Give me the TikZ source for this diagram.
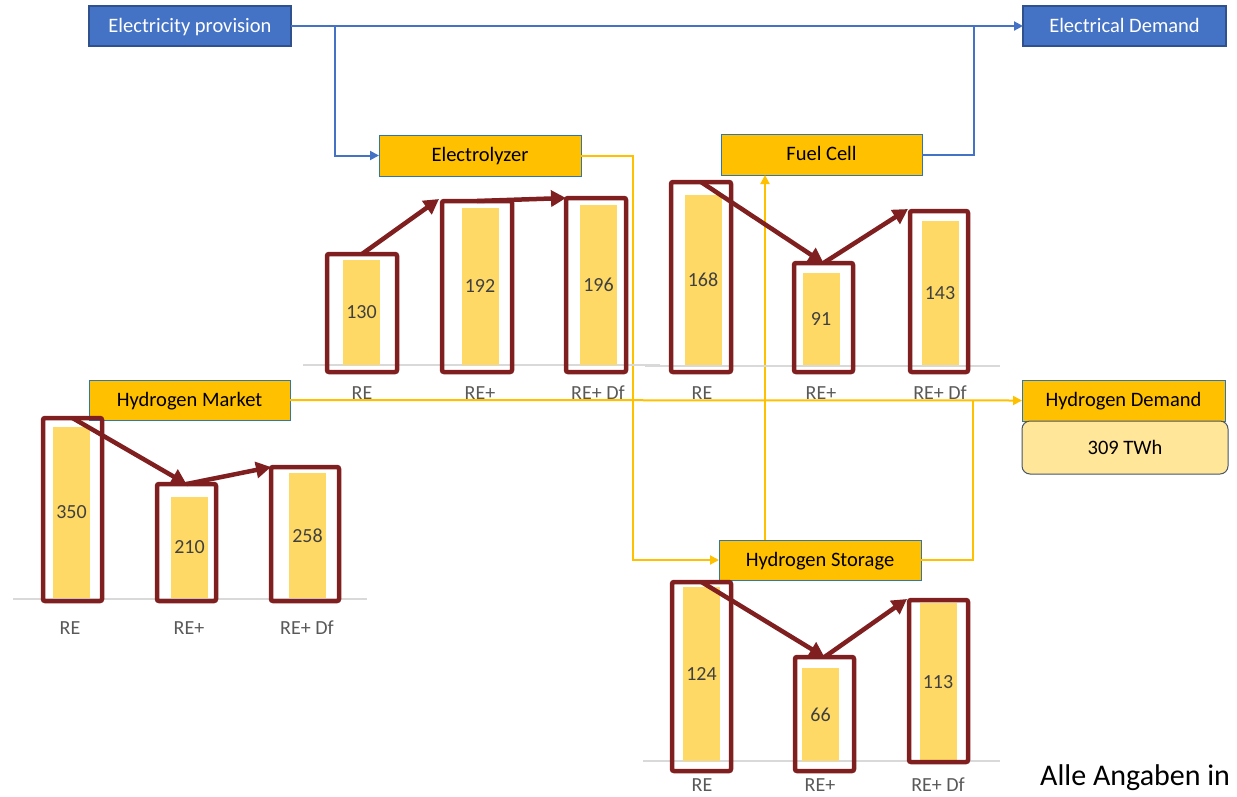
\documentclass[tikz,border=0pt]{standalone}
\usepackage{fontspec}
\setmainfont{Carlito}
\usetikzlibrary{arrows.meta}

\definecolor{elblue}{HTML}{4472C4}
\definecolor{elblueline}{HTML}{2F528F}
\definecolor{hyyellow}{HTML}{FFC000}
\definecolor{boxedge}{HTML}{2E75B6}
\definecolor{barfill}{HTML}{FFD966}
\definecolor{framered}{HTML}{7F1F1F}
\definecolor{axisgray}{HTML}{D9D9D9}
\definecolor{labgray}{HTML}{595959}
\definecolor{numgray}{HTML}{404040}
\definecolor{demandfill}{HTML}{FFE699}
\definecolor{demandedge}{HTML}{44546A}

\tikzset{
  boxfont/.style={font=\fontsize{20.5}{24}\selectfont},
  chartfont/.style={font=\fontsize{20}{24}\selectfont},
  elbox/.style={boxfont, draw=elblueline, line width=1.2, fill=elblue, text=white,
    minimum width=202, minimum height=40, inner sep=0, outer sep=0, text depth=2pt},
  h2box/.style={boxfont, draw=boxedge, line width=1, fill=hyyellow, text=black,
    minimum width=202, minimum height=40, inner sep=0, outer sep=0, text depth=2pt},
  valuebox/.style={boxfont, draw=demandedge, line width=1, fill=demandfill, text=black,
    rounded corners=8, minimum width=206, minimum height=53, inner sep=0, outer sep=0},
  bar/.style={chartfont, fill=barfill, text=numgray, inner sep=0, outer sep=0, minimum width=37},
  frame/.style={draw=framered, line width=4.5, rounded corners=2, inner sep=0, outer sep=0},
  trend/.style={draw=framered, line width=4.5, -{Triangle[length=15pt,width=16pt]}},
  axisline/.style={draw=axisgray, line width=1.2},
  cat/.style={chartfont, text=labgray, inner sep=0},
  eline/.style={draw=elblue, line width=2},
  hline/.style={draw=hyyellow, line width=2},
  tip/.style={-{Triangle[length=9pt,width=9pt]}},
}

% bar: name, centre x, top y, bottom y, value
\newcommand\ChartBar[5]{%
  \node[bar, minimum height={#4-#3}] (#1) at (#2,{(#3+#4)/2}) {#5};}
% highlight frame: name, x1, y1, x2, y2
\newcommand\ChartFrame[5]{%
  \node[frame, minimum width={#4-#2}, minimum height={#5-#3}] (#1) at ({(#2+#4)/2},{(#3+#5)/2}) {};}
% category labels: y, three centre x values
\newcommand\ChartCats[4]{%
  \node[cat] (c#1a) at (#2,#1) {RE};
  \node[cat] (c#1b) at (#3,#1) {RE+};
  \node[cat] (c#1c) at (#4,#1) {RE+ Df};}

\begin{document}
\begin{tikzpicture}[x=1pt, y=-1pt]
\useasboundingbox (0,0) rectangle (1237,796);
\clip (0,0) rectangle (1237,796);

% ---- process boxes
\node[elbox] (ep) at (190,26) {Electricity provision};
\node[elbox, minimum width=203] (ed) at (1124.5,26) {Electrical Demand};
\node[h2box, minimum height=41] (ely) at (480,155.5) {Electrolyzer};
\node[h2box, minimum width=201, minimum height=41] (fc) at (821.5,154.5) {Fuel Cell};
\node[h2box, minimum width=201] (hm) at (189.5,400) {Hydrogen Market};
\node[h2box, minimum width=203, minimum height=41] (hd) at (1123.5,400.5) {Hydrogen Demand};
\node[valuebox] (twh) at (1125,447.5) {309 TWh};
\node[h2box] (hs) at (820,560) {Hydrogen Storage};

% ---- electricity flows
\coordinate (epsplit) at (335,26);
\coordinate (edjoin) at (974,26);
\draw[eline, tip] (ep.east) -- (ed.west);
\draw[eline, tip] (epsplit) |- (ely.west);
\draw[eline] (fc.east) -| (edjoin);

% ---- hydrogen flows
\coordinate (h2join) at (973,400);
\draw[hline, tip] (ely.east) -- ++(52,0) |- (hs.west);
\draw[hline, tip] (hm.east) -- (hd.west);
\draw[hline, tip] ([xshift=46]hs.north west) -- ([xshift=44]fc.south west);
\draw[hline] (hs.east) -| (h2join);

% ---- electrolyzer chart
\draw[axisline] (303,365) -- (660,365);
\ChartBar{ea}{361.5}{260}{365}{130}
\ChartBar{eb}{480}{208}{365}{192}
\ChartBar{ec}{598.5}{205}{365}{196}
\ChartFrame{efa}{327}{254}{397}{372}
\ChartFrame{efb}{442}{201}{512}{372}
\ChartFrame{efc}{566}{198}{626}{372}
\ChartCats{393}{362}{480}{598}
\draw[trend] (efa.north) -- ([xshift=-3,yshift=2]efb.north west);
\draw[trend] (efb.north) -- (efc.north west);

% ---- fuel cell chart
\draw[axisline] (645,366) -- (1000,366);
\ChartBar{fa}{703}{195}{365}{168}
\ChartBar{fb}{821}{273}{365}{91}
\ChartBar{fc2}{940}{221}{365}{143}
\ChartFrame{ffa}{671}{182}{731}{372}
\ChartFrame{ffb}{794}{263}{853}{372}
\ChartFrame{ffc}{910}{211}{968}{372}
\ChartCats{393}{702}{821}{940}
\draw[trend] (ffa.north) -- (ffb.north);
\draw[trend] (ffb.north) -- ([xshift=-2,yshift=2]ffc.north west);

% ---- hydrogen market chart
\draw[axisline] (13,599) -- (367,599);
\ChartBar{ma}{71.5}{427}{598}{350}
\ChartBar{mb}{189.5}{497}{598}{210}
\ChartBar{mc}{307.5}{473}{598}{258}
\ChartFrame{mfa}{43}{418}{102}{601}
\ChartFrame{mfb}{157}{484}{216}{601}
\ChartFrame{mfc}{271}{467}{339}{601}
\ChartCats{628}{70}{189}{307}
\draw[trend] (mfa.north) -- (mfb.north);
\draw[trend] (mfb.north) -- (mfc.north west);

% ---- hydrogen storage chart
\draw[axisline] (643,761) -- (1000,761);
\ChartBar{sa}{701.5}{587}{761}{124}
\ChartBar{sb}{820.5}{668}{761}{66}
\ChartBar{sc}{938}{603}{761}{113}
\ChartFrame{sfa}{672}{582}{731}{771}
\ChartFrame{sfb}{795}{657}{854}{771}
\ChartFrame{sfc}{909}{600}{968}{762}
\ChartCats{785}{702}{820}{938}
\draw[trend] (sfa.north) -- (sfb.north);
\draw[trend] (sfb.north) -- ([xshift=-2,yshift=1]sfc.north west);

% ---- unit note
\node[anchor=base west, inner sep=0, font=\fontsize{30}{36}\selectfont] (note) at (1040,785) {Alle Angaben in};
\end{tikzpicture}
\end{document}
